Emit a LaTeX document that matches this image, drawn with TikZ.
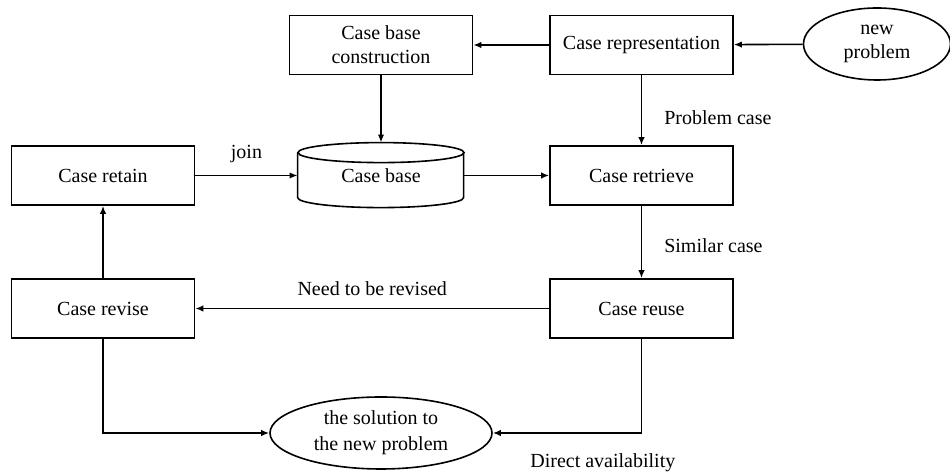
\documentclass[tikz,border=0pt]{standalone}
\usepackage{fontspec}
\setmainfont{Liberation Serif}
\usetikzlibrary{arrows.meta,shapes.geometric}

\begin{document}
\begin{tikzpicture}[
    x=0.5pt, y=-0.5pt,
    line/.style={line width=0.8pt},
    arr/.style={line, -{Latex[length=4pt,width=3.2pt]}},
    box/.style={line, draw, rectangle, align=center, minimum width=91.5pt, minimum height=29.5pt},
    oval/.style={line, draw, ellipse, align=center, inner sep=0pt},
    lbl/.style={inner sep=2pt}
]
    \useasboundingbox (0,0) rectangle (950,474);

    \node[box] (cbc) at (381,45) {Case base\\construction};
    \node[box] (crep) at (641.5,45) {Case representation};
    \node[oval, minimum width=73.5pt, minimum height=36pt] (newp) at (877,44) {new\\problem};

    \node[box] (retain) at (103,175.5) {Case retain};
    \node[minimum width=83pt, minimum height=32.5pt] (base) at (381,175.5) {Case base};
    \node[box] (retr) at (641.5,175.5) {Case retrieve};

    \node[box] (revise) at (103,308.5) {Case revise};
    \node[box] (reuse) at (641.5,308.5) {Case reuse};

    \node[oval, minimum width=111pt, minimum height=36pt] (sol) at (381,433) {the solution to\\[1pt]the new problem};

    % case base drum
    \draw[line] (base.north) ++(0,10) ellipse [x radius=83, y radius=10];
    \draw[line] (base.north west) ++(0,10) -- ++(0,45)
        arc[start angle=180, end angle=0, x radius=83, y radius=10] -- ++(0,-45);

    \draw[arr] (newp) -- (crep);
    \draw[arr] (crep) -- (cbc);
    \draw[arr] (cbc) -- (base);
    \draw[arr] (crep) -- node[lbl, pos=0.6, right=9pt] {Problem case} (retr);
    \draw[arr] (retain) -- node[lbl, above=4pt] {join} (base);
    \draw[arr] (base) -- (retr);
    \draw[arr] (retr) -- node[lbl, pos=0.55, right=9pt] {Similar case} (reuse);
    \draw[arr] (reuse) -- node[lbl, above=4pt] {Need to be revised} (revise);
    \draw[arr] (revise) -- (retain);
    \draw[arr] (revise) |- (sol);
    \draw[arr] (reuse) |- node[lbl, pos=0.63, below=8pt] {Direct availability} (sol);

\end{tikzpicture}
\end{document}
